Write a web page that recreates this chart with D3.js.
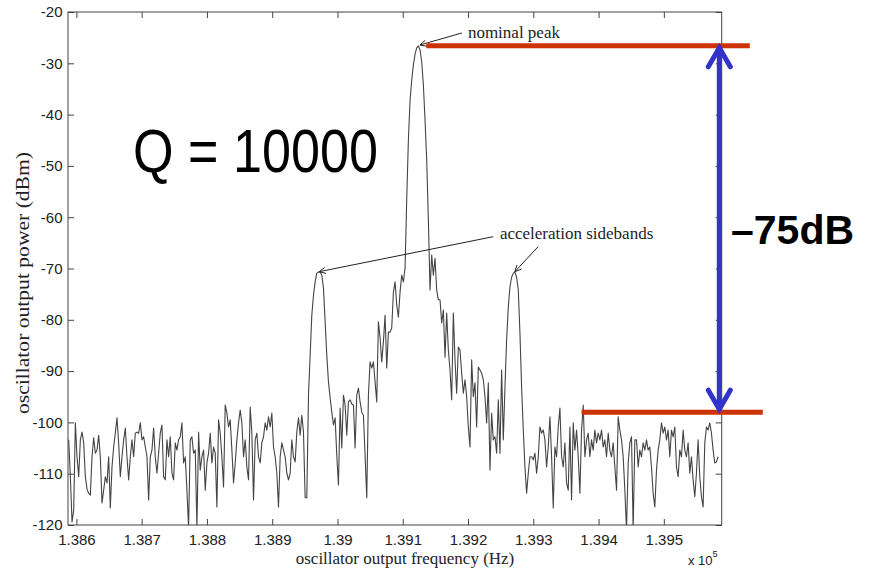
<!DOCTYPE html>
<html><head><meta charset="utf-8">
<script src="https://cdn.jsdelivr.net/npm/d3@7"></script>
<style>body{margin:0;background:#fff}</style>
</head><body>
<svg id="c" width="869" height="570"></svg>
<script>
// ---- data (frequency in units of 1e5 Hz, power in dBm) ----
const xDomain = [1.3858712, 1.3958866];
const yDomain = [-120, -20];
const xTicks = [1.386, 1.387, 1.388, 1.389, 1.390, 1.391, 1.392, 1.393, 1.394, 1.395];
const xTickLabels = ["1.386", "1.387", "1.388", "1.389", "1.39", "1.391", "1.392", "1.393", "1.394", "1.395"];
const yTicks = [-120, -110, -100, -90, -80, -70, -60, -50, -40, -30, -20];
const yTickLabels = ["-120", "-110", "-100", "-90", "-80", "-70", "-60", "-50", "-40", "-30", "-20"];
const traceFreqRange = [1.3858819, 1.3958314];

const noiseLeftA = [-103.4,-110.6,-119.4,-117.1,-100.1,-106.7,-110.6,-103.4,-101.9,-104.0,-110.6,-113.0,-113.8,-114.2,-106.7,-103.0,-106.0,-105.4,-102.5,-106.7,-115.7,-113.2,-110.6,-111.8,-106.7,-116.7,-108.7,-104.8,-102.1,-99.1,-104.0,-110.6,-106.7,-103.4,-101.1,-106.7,-111.2,-106.7,-103.4,-106.7,-102.1,-101.9,-102.1,-100.1,-103.4,-102.8,-104.8,-106.7,-115.1,-106.7,-105.4,-101.1,-106.7,-109.9,-106.0,-102.1,-100.5,-110.6,-111.2,-103.4,-106.7,-102.8,-109.9,-111.2,-104.0,-105.4,-103.4,-102.8,-100.1,-107.9];
const noiseLeftB = [-106.7,-113.2,-120.5,-103.4,-102.8,-106.0,-105.4,-120.5,-101.9,-109.3,-106.7,-105.4,-113.2,-107.9,-106.0,-102.1,-107.9,-104.8,-106.0,-116.5,-99.5,-102.1,-106.7,-112.6,-96.6,-98.2,-100.9,-99.5,-105.4,-111.8,-107.9,-103.4,-100.1,-97.6,-100.1,-106.7,-103.4,-108.7,-111.2,-97.0,-102.1,-115.1,-103.4,-102.1,-106.7,-107.9,-104.0,-102.8,-100.1,-101.5,-98.9,-100.9,-98.2,-104.8,-106.7,-109.9,-116.5,-106.7,-104.0,-105.4,-106.7,-109.9,-111.2,-109.9,-103.4,-106.7];
const sidebandLeft = [-107.7,-101.9,-99.1,-102.5,-98.6,-101.9,-114.7,-114.7,-94.7,-86.9,-79.1,-75.2,-72.6,-70.9,-70.7,-70.7,-71.3,-73.8,-80.4,-86.9,-92.1,-95.2,-98.0,-100.5,-99.1,-106.4,-112.2,-97.2,-105.0,-94.7,-96.6,-102.5,-96.0,-95.6,-96.4,-96.6,-105.0,-94.7,-93.3,-96.0,-98.0,-98.6,-106.4,-114.7,-94.7,-88.2,-89.4,-88.2,-92.1,-96.0,-80.4,-83.5,-88.2,-84.3,-79.1,-89.4,-82.4,-82.4,-81.6,-74.6,-72.6,-77.1,-79.5,-74.6,-71.3,-72.6,-69.9];
const mainPeak = [-56.6,-45.0,-37.2,-33.3,-30.3,-28.2,-27.0,-26.6,-27.4,-29.7,-34.2,-41.1,-48.8,-60.5,-74.2,-67.4,-71.3,-68.0,-74.2,-76.1];
const sidebandRight = [-76.1,-80.6,-78.1,-87.3,-78.7,-85.9,-89.8,-95.6,-78.7,-87.8,-94.3,-85.3,-85.9,-90.4,-94.3,-91.7,-95.0,-100.9,-104.8,-87.8,-95.0,-92.3,-100.9,-89.2,-89.8,-90.4,-91.7,-95.0,-100.1,-92.3,-109.3,-98.2,-103.4,-102.8,-106.0,-95.6,-106.0,-89.8,-103.4,-93.1,-83.9,-77.5,-73.6,-71.7,-70.9,-70.7,-71.7,-74.2,-82.6,-93.1,-101.5,-108.7,-113.8,-109.9,-106.7,-106.7,-107.3,-106.0,-109.9];
const noiseRight = [-106.7,-100.9,-102.1,-101.5,-103.4,-108.7,-104.8,-98.9,-106.7,-116.7,-104.8,-106.7,-100.9,-97.2,-106.7,-108.7,-104.0,-111.8,-113.2,-100.9,-115.1,-100.1,-105.4,-101.5,-106.7,-113.8,-101.5,-96.6,-106.7,-103.4,-102.1,-106.7,-103.4,-105.4,-101.5,-104.0,-102.1,-103.4,-101.5,-104.8,-103.4,-106.7,-102.1,-105.4,-106.7,-104.0,-108.7,-113.2,-98.9,-101.5,-103.4,-106.7,-113.2,-121.0,-107.9,-104.0,-102.8,-121.0,-103.4,-103.4,-108.7,-105.4,-106.7,-104.0,-105.4,-103.4,-105.4,-104.8,-108.7,-113.8,-116.5,-109.3,-105.4,-103.4,-100.1,-102.1,-100.9,-103.4,-101.5,-106.7,-101.5,-102.8,-100.9,-108.7,-110.6,-105.4,-106.7,-101.5,-105.4,-106.7,-104.0,-109.9,-106.7,-111.2,-114.5,-109.9,-103.4,-110.6,-114.5,-116.5,-104.0,-100.9,-101.5,-100.1,-102.1,-105.4,-107.9,-107.7,-106.7];
const powerDbm = [].concat(noiseLeftA, noiseLeftB, sidebandLeft, mainPeak, sidebandRight, noiseRight);

// annotations (data coordinates)
const nominalPeakLevel = -26.6;
const noiseFloorLevel = -98.0;
const nominalArrow = {from: [1.391906, -24.09], to: [1.391263, -26.43], text: [1.391998, -25.1], label: "nominal peak"};
const sideArrows = [{from: [1.392385, -63.8], to: [1.389720, -70.62]}, {from: [1.393074, -65.75], to: [1.392718, -70.62]}];
const sideLabel = {pos: [1.392488, -64.3], label: "acceleration sidebands"};
const peakLine = [1.39136, 1.396317];
const floorLine = [1.393739, 1.396516];
const dynArrowFreq = 1.39585;
const dynLabel = "\u201375dB";
const qLabel = "Q = 10000";

// ---- drawing ----
const svg = d3.select("#c");
const L = 68, R = 721.7, T = 12, B = 525;
const x = d3.scaleLinear().domain(xDomain).range([L, R]);
const y = d3.scaleLinear().domain(yDomain).range([B, T]);
const axisColor = "#444";
const tickFont = "'Liberation Sans', Arial, sans-serif";
const serif = "'Liberation Serif', 'Times New Roman', serif";

svg.append("defs").append("clipPath").attr("id", "plot")
  .append("rect").attr("x", L).attr("y", T).attr("width", R - L).attr("height", B - T);

// trace
const step = (traceFreqRange[1] - traceFreqRange[0]) / (powerDbm.length - 1);
const pts = powerDbm.map((p, i) => [traceFreqRange[0] + i * step, p]);
svg.append("path").datum(pts)
  .attr("clip-path", "url(#plot)")
  .attr("fill", "none").attr("stroke", "#444").attr("stroke-width", 1.1)
  .attr("stroke-linejoin", "round")
  .attr("d", d3.line().x(d => x(d[0])).y(d => y(d[1])));

// axes
function styleAxis(g) {
  g.selectAll(".domain").remove();
  g.selectAll("line").attr("stroke", axisColor);
  g.selectAll("text").attr("fill", "#222").style("font-family", tickFont).style("font-size", "15px");
}
svg.append("g").attr("transform", `translate(0,${B})`)
  .call(d3.axisBottom(x).tickValues(xTicks).tickFormat((d, i) => xTickLabels[i]).tickSizeInner(-6).tickSizeOuter(0).tickPadding(9.5))
  .call(styleAxis);
svg.append("g").attr("transform", `translate(0,${T})`)
  .call(d3.axisTop(x).tickValues(xTicks).tickFormat("").tickSizeInner(-6).tickSizeOuter(0))
  .call(styleAxis);
svg.append("g").attr("transform", `translate(${L},0)`)
  .call(d3.axisLeft(y).tickValues(yTicks).tickFormat((d, i) => yTickLabels[i]).tickSizeInner(-6).tickSizeOuter(0).tickPadding(5.5))
  .call(styleAxis);
svg.append("g").attr("transform", `translate(${R},0)`)
  .call(d3.axisRight(y).tickValues(yTicks).tickFormat("").tickSizeInner(-6).tickSizeOuter(0))
  .call(styleAxis);
svg.append("rect").attr("x", L).attr("y", T).attr("width", R - L).attr("height", B - T)
  .attr("fill", "none").attr("stroke", axisColor).attr("stroke-width", 1);

// axis titles
svg.append("text").attr("x", 405).attr("y", 564).attr("text-anchor", "middle")
  .style("font-family", serif).style("font-size", "17px").attr("fill", "#222")
  .text("oscillator output frequency (Hz)");
svg.append("text").attr("transform", "translate(29,283) rotate(-90)").attr("text-anchor", "middle")
  .attr("textLength", 262).attr("lengthAdjust", "spacingAndGlyphs")
  .style("font-family", serif).style("font-size", "18px").attr("fill", "#222")
  .text("oscillator output power (dBm)");
const ex = svg.append("text").attr("x", 688).attr("y", 565)
  .style("font-family", tickFont).style("font-size", "13px").attr("fill", "#222");
ex.append("tspan").text("x 10");
ex.append("tspan").attr("dy", -8).style("font-size", "9px").text("5");

// annotation arrows
function arrowHead(g, x1, y1, x2, y2, len) {
  const a = Math.atan2(y2 - y1, x2 - x1);
  const s = 0.45;
  const p1 = [x2 - len * Math.cos(a - s), y2 - len * Math.sin(a - s)];
  const p2 = [x2 - len * Math.cos(a + s), y2 - len * Math.sin(a + s)];
  g.append("path").attr("d", `M${p1}L${x2},${y2}L${p2}`).attr("fill", "none")
    .attr("stroke", "#222").attr("stroke-width", 1);
}
const ann = svg.append("g");
[nominalArrow, ...sideArrows].forEach(a => {
  const x1 = x(a.from[0]), y1 = y(a.from[1]), x2 = x(a.to[0]), y2 = y(a.to[1]);
  ann.append("line").attr("x1", x1).attr("y1", y1).attr("x2", x2).attr("y2", y2)
    .attr("stroke", "#222").attr("stroke-width", 1);
  arrowHead(ann, x1, y1, x2, y2, 7);
});
ann.append("text").attr("x", x(nominalArrow.text[0])).attr("y", y(nominalArrow.text[1]))
  .style("font-family", serif).style("font-size", "17px").attr("fill", "#222").text(nominalArrow.label);
ann.append("text").attr("x", x(sideLabel.pos[0])).attr("y", y(sideLabel.pos[1]))
  .style("font-family", serif).style("font-size", "17px").attr("fill", "#222").text(sideLabel.label);

// red level lines
const red = "#cc3300";
svg.append("line").attr("x1", x(peakLine[0])).attr("x2", x(peakLine[1]))
  .attr("y1", y(nominalPeakLevel)).attr("y2", y(nominalPeakLevel))
  .attr("stroke", red).attr("stroke-width", 5);
svg.append("line").attr("x1", x(floorLine[0])).attr("x2", x(floorLine[1]))
  .attr("y1", y(noiseFloorLevel)).attr("y2", y(noiseFloorLevel))
  .attr("stroke", red).attr("stroke-width", 5);

// blue double arrow
const blue = "#3333cc";
const bx = x(dynArrowFreq), by1 = y(nominalPeakLevel) + 2, by2 = y(noiseFloorLevel) - 3;
svg.append("line").attr("x1", bx).attr("x2", bx).attr("y1", by1 + 2).attr("y2", by2 - 2)
  .attr("stroke", blue).attr("stroke-width", 5);
svg.append("path").attr("d", `M${bx - 11},${by1 + 19}L${bx},${by1}L${bx + 11},${by1 + 19}`)
  .attr("fill", "none").attr("stroke", blue).attr("stroke-width", 5)
  .attr("stroke-linecap", "round").attr("stroke-linejoin", "miter");
svg.append("path").attr("d", `M${bx - 11},${by2 - 19}L${bx},${by2}L${bx + 11},${by2 - 19}`)
  .attr("fill", "none").attr("stroke", blue).attr("stroke-width", 5)
  .attr("stroke-linecap", "round").attr("stroke-linejoin", "miter");

// big labels
svg.append("text").attr("x", 731).attr("y", 244)
  .style("font-family", tickFont).style("font-size", "41px").style("font-weight", "bold")
  .attr("fill", "#000").text(dynLabel);
svg.append("text").attr("x", 133).attr("y", 172)
  .attr("textLength", 245).attr("lengthAdjust", "spacingAndGlyphs")
  .style("font-family", tickFont).style("font-size", "61px")
  .attr("fill", "#000").text(qLabel);
</script>
</body></html>
